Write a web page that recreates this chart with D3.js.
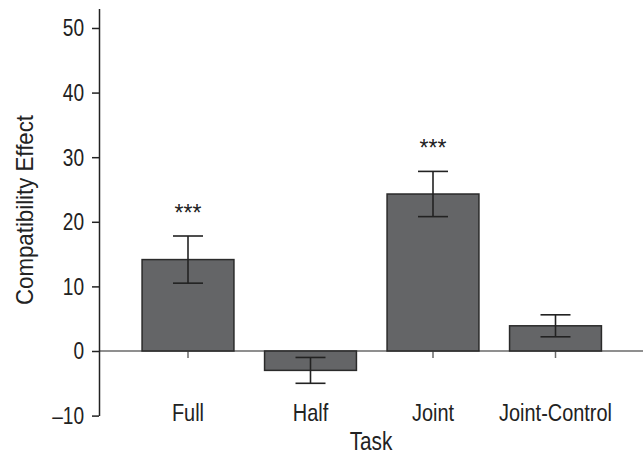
<!DOCTYPE html>
<html>
<head>
<meta charset="utf-8">
<script src="https://cdn.jsdelivr.net/npm/d3@7"></script>
<style>
  html, body { margin: 0; padding: 0; background: #fff; }
  svg { display: block; }
  text { font-family: 'Liberation Sans', Arial, sans-serif; fill: #222; }
</style>
</head>
<body>
<svg id="chart" width="643" height="455"></svg>
<script>
const categories = ["Full", "Half", "Joint", "Joint-Control"];
const means = [14.15, -3.0, 24.3, 3.9];
const errors = [3.65, 2.0, 3.5, 1.7];
const significance = ["***", "", "***", ""];
const yTicks = [-10, 0, 10, 20, 30, 40, 50];

const data = categories.map((c, i) => ({ cat: c, mean: means[i], err: errors[i], sig: significance[i] }));

const svg = d3.select("#chart");
const axisX = 99;
const narrow = 0.83; // horizontal squeeze to emulate a condensed face

const y = d3.scaleLinear().domain([-10, 53]).range([415.6, 8.6]);
const x = d3.scaleBand().domain(categories).range([126.75, 616.75])
  .paddingInner(0.25).paddingOuter(0.125);

// zero line
svg.append("line")
  .attr("x1", axisX).attr("x2", 643)
  .attr("y1", y(0)).attr("y2", y(0))
  .attr("stroke", "#6a6a6a").attr("stroke-width", 1.5);

// bottom ticks at categories
svg.append("g").selectAll("line").data(categories).join("line")
  .attr("x1", d => x(d) + x.bandwidth() / 2)
  .attr("x2", d => x(d) + x.bandwidth() / 2)
  .attr("y1", y(0)).attr("y2", y(0) + 7)
  .attr("stroke", "#6a6a6a").attr("stroke-width", 1.5);

// bars
svg.append("g").selectAll("rect").data(data).join("rect")
  .attr("x", d => x(d.cat))
  .attr("width", x.bandwidth())
  .attr("y", d => y(Math.max(0, d.mean)))
  .attr("height", d => Math.abs(y(d.mean) - y(0)))
  .attr("fill", "#646567")
  .attr("stroke", "#2a2a2a")
  .attr("stroke-width", 1.5);

// error bars
const eb = svg.append("g").attr("stroke", "#222").attr("stroke-width", 1.6);
data.forEach(d => {
  const cx = x(d.cat) + x.bandwidth() / 2;
  const hi = y(d.mean + d.err), lo = y(d.mean - d.err);
  eb.append("line").attr("x1", cx).attr("x2", cx).attr("y1", hi).attr("y2", lo);
  eb.append("line").attr("x1", cx - 15).attr("x2", cx + 15).attr("y1", hi).attr("y2", hi);
  eb.append("line").attr("x1", cx - 15).attr("x2", cx + 15).attr("y1", lo).attr("y2", lo);
});

// significance stars
svg.append("g").selectAll("text").data(data.filter(d => d.sig)).join("text")
  .attr("transform", d => `translate(${x(d.cat) + x.bandwidth() / 2},${y(d.mean + d.err) - 15})`)
  .attr("text-anchor", "middle")
  .style("font-size", "23px")
  .attr("fill", "#333")
  .text(d => d.sig);

// y axis
const yAxis = d3.axisLeft(y).tickValues(yTicks).tickSize(7).tickSizeOuter(0).tickPadding(8)
  .tickFormat(d => d < 0 ? "\u2013" + Math.abs(d) : String(d));
const gy = svg.append("g").attr("transform", `translate(${axisX},0)`).call(yAxis);
gy.select(".domain").attr("stroke", "#222").attr("stroke-width", 1.5);
gy.selectAll(".tick line").attr("stroke", "#222").attr("stroke-width", 1.5);
gy.selectAll(".tick text")
  .attr("fill", "#222")
  .attr("x", null).attr("dy", null)
  .attr("transform", `translate(-15,8) scale(${narrow},1)`)
  .style("font-family", "'Liberation Sans', Arial, sans-serif")
  .style("font-size", "23px");

// category labels
svg.append("g").selectAll("text").data(categories).join("text")
  .attr("transform", d => `translate(${x(d) + x.bandwidth() / 2},421) scale(${narrow},1)`)
  .attr("text-anchor", "middle")
  .style("font-size", "24px")
  .text(d => d);

// axis titles
svg.append("text")
  .attr("transform", `translate(371,450) scale(${narrow},1)`)
  .attr("text-anchor", "middle")
  .style("font-size", "25px")
  .text("Task");

svg.append("text")
  .attr("transform", "translate(33,210) rotate(-90)")
  .attr("text-anchor", "middle")
  .attr("textLength", 190)
  .attr("lengthAdjust", "spacingAndGlyphs")
  .style("font-size", "24px")
  .text("Compatibility Effect");
</script>
</body>
</html>
